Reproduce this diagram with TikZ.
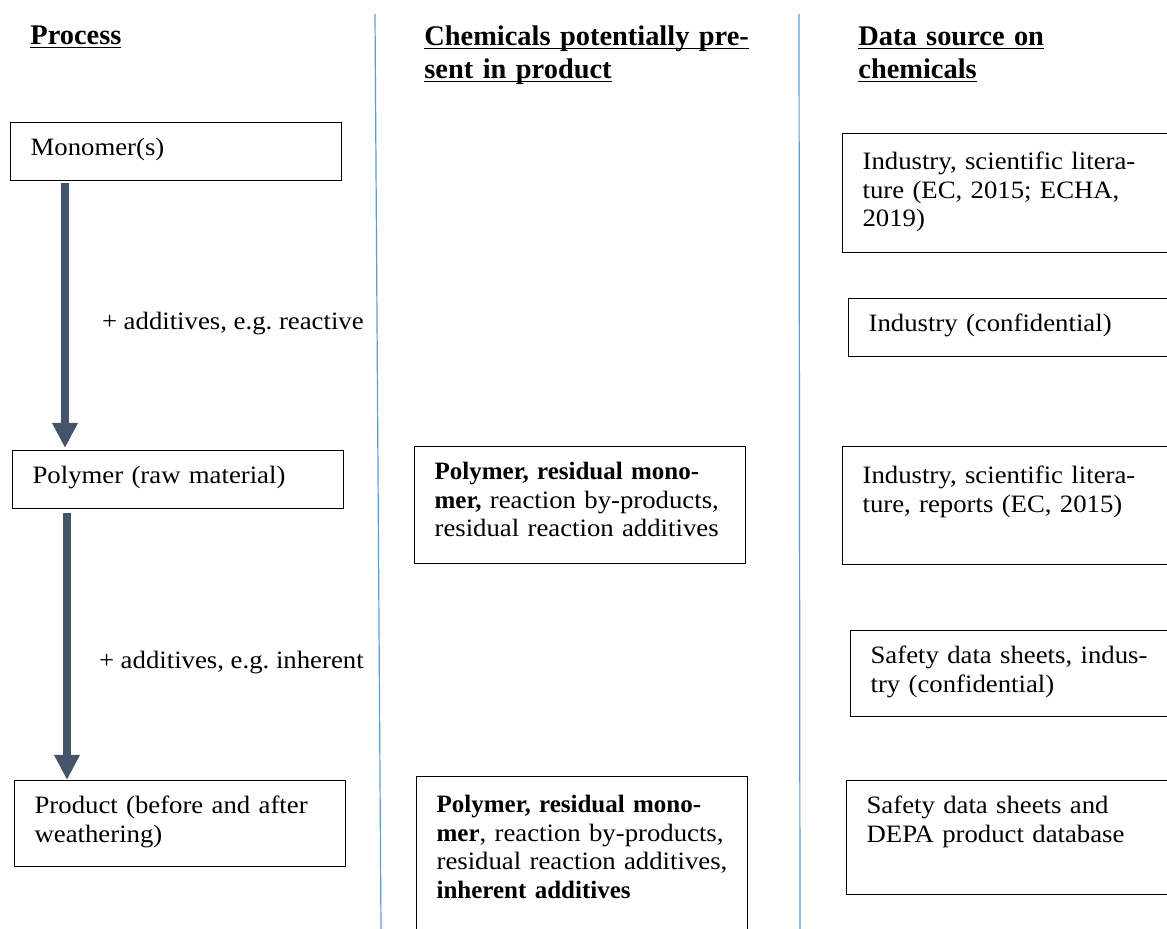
\documentclass[tikz,border=0pt]{standalone}
\usepackage{fontspec}
\setmainfont{Liberation Serif}
\newfontfamily\bodyfont{Liberation Serif}[FakeStretch=1.07]
\usetikzlibrary{arrows.meta}
\definecolor{flowgrey}{HTML}{44546A}
\definecolor{colblue}{HTML}{5B9BD5}
\newcommand{\hl}[1]{{\rmfamily\bfseries #1}}
\newcommand{\ul}[1]{\underline{\smash{#1}}}
\frenchspacing

\begin{document}
\begin{tikzpicture}[x=0.5pt, y=-0.5pt,
    every node/.style={font=\bodyfont\fontsize{12.5}{14.25}\selectfont},
    head/.style={anchor=base west, inner sep=0, align=left, text width=190pt,
        font=\rmfamily\bfseries\fontsize{14.2}{16.5}\selectfont},
    stage/.style={draw, line width=0.6pt, anchor=north west, inner xsep=10pt,
        inner ysep=0pt, align=left, text height=16.5pt},
    flow/.style={draw=flowgrey, line width=4pt, -{Triangle[width=12pt,length=12.5pt]}, flowgrey},
    note/.style={anchor=west, inner sep=0, text=black}]
    \useasboundingbox (0,0) rectangle (1167,929);
    \clip (0,0) rectangle (1167,929);

    % column rules
    \draw[colblue, line width=0.6pt] (375,14) -- (381,929);
    \draw[colblue, line width=0.6pt] (799,14) -- (800,929);

    % headings
    \node[head] (hproc) at (30,45) {\ul{Process}};
    \node[head] (hchem) at (424,46) {\ul{Chemicals potentially pre-}\\\ul{sent in product}};
    \node[head] (hsrc) at (858,46) {\ul{Data source on}\\\ul{chemicals}};

    % process column
    \node[stage, text width=145.5pt, text depth=12.5pt] (mono) at (10,122) {Monomer(s)};
    \node[stage, text width=145.5pt, text depth=12.5pt] (poly) at (12,450) {Polymer (raw material)};
    \node[stage, text width=145.5pt, text depth=26.5pt] (prod) at (14,780) {Product (before and after\\weathering)};

    \draw[flow] ([xshift=27.5pt,yshift=-1pt]mono.south west) -- ([xshift=26.5pt,yshift=1pt]poly.north west)
        node[note, pos=.53, xshift=16.5pt] (addA) {+ additives, e.g. reactive};
    \draw[flow] ([xshift=27.5pt,yshift=-2pt]poly.south west) -- ([xshift=26.5pt]prod.north west)
        node[note, pos=.56, xshift=14pt] (addB) {+ additives, e.g. inherent};

    % chemicals column
    \node[stage, text width=145.5pt, text depth=42pt] (chemA) at (414,446)
        {\hl{Polymer, residual mono-}\\\hl{mer,} reaction by-products,\\residual reaction additives};
    \node[stage, text width=145.5pt, text height=18pt, text depth=67pt] (chemB) at (416,776)
        {\hl{Polymer, residual mono-}\\\hl{mer}, reaction by-products,\\residual reaction additives,\\\hl{inherent additives}};

    % data source column
    \node[stage, text width=154pt, text height=18pt, text depth=41.5pt] (srcA) at (842,133)
        {Industry, scientific litera-\\ture (EC, 2015; ECHA,\\2019)};
    \node[stage, text width=151pt, text depth=12.5pt] (srcB) at (848,298) {Industry (confidential)};
    \node[stage, text width=154pt, text height=18.5pt, text depth=40.5pt] (srcC) at (842,446)
        {Industry, scientific litera-\\ture, reports (EC, 2015)};
    \node[stage, text width=150pt, text depth=26.5pt] (srcD) at (850,630)
        {Safety data sheets, indus-\\try (confidential)};
    \node[stage, text width=152pt, text depth=40.5pt] (srcE) at (846,780)
        {Safety data sheets and\\DEPA product database};
\end{tikzpicture}
\end{document}
